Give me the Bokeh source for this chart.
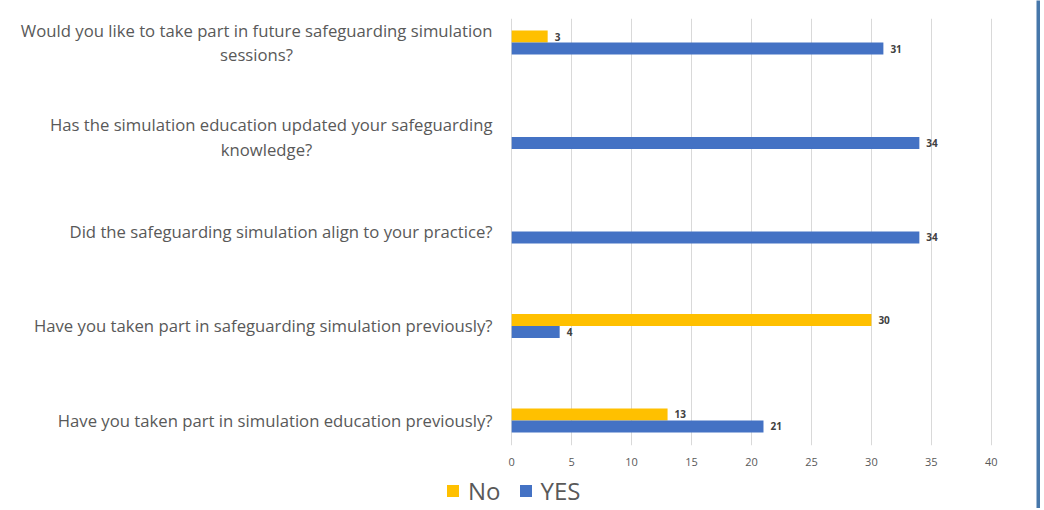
from bokeh.plotting import figure
from bokeh.models import (Range1d, FixedTicker, Legend, LegendItem,
                          ColumnDataSource)
from bokeh.layouts import row, column
from bokeh.embed import file_html
from bokeh.resources import INLINE
from bokeh.core.properties import value

# ---- data (bottom to top) ----
questions = [
    ["Have you taken part in simulation education previously?"],
    ["Have you taken part in safeguarding simulation previously?"],
    ["Did the safeguarding simulation align to your practice?"],
    ["Has the simulation education updated your safeguarding", "knowledge?"],
    ["Would you like to take part in future safeguarding simulation", "sessions?"],
]
no_values = [13, 30, None, None, 3]
yes_values = [21, 4, 34, 34, 31]
x_ticks = [0, 5, 10, 15, 20, 25, 30, 35, 40]
series_names = ["No", "YES"]

FONT = "Open Sans"
TXT = "#595959"
NO_COL = "#FFC000"
YES_COL = "#4472C4"
BAR_H = 0.127
H_TOP = 468
H_ALL = 508
pos = list(range(len(questions)))
y_rng = Range1d(-0.2646, 4.254)

# ---------------- main bar chart ----------------
p = figure(width=532, height=H_TOP, output_backend="svg", toolbar_location=None,
           x_range=Range1d(-0.1, 40.1), y_range=y_rng,
           y_axis_location=None, min_border_left=6, min_border_right=44,
           min_border_top=18, min_border_bottom=23)
p.outline_line_color = None

no_src = ColumnDataSource(dict(
    y=[i + BAR_H / 2 for i, v in zip(pos, no_values) if v is not None],
    v=[v for v in no_values if v is not None],
    t=[str(v) for v in no_values if v is not None]))
yes_src = ColumnDataSource(dict(
    y=[i - BAR_H / 2 for i in pos], v=yes_values,
    t=[str(v) for v in yes_values]))

p.hbar(y="y", right="v", left=0, height=BAR_H, source=no_src,
       fill_color=NO_COL, line_color=None)
p.hbar(y="y", right="v", left=0, height=BAR_H, source=yes_src,
       fill_color=YES_COL, line_color=None)

for src in (no_src, yes_src):
    p.text(x="v", y="y", text="t", source=src, x_offset=7,
           text_font=value(FONT), text_font_style="bold",
           text_font_size="10px", text_color="#404040",
           text_baseline="middle", text_align="left")

p.xaxis.ticker = FixedTicker(ticks=x_ticks)
p.xaxis.axis_line_color = None
p.xaxis.major_tick_line_color = None
p.xaxis.minor_tick_line_color = None
p.xaxis.major_label_text_font = FONT
p.xaxis.major_label_text_font_size = "11px"
p.xaxis.major_label_text_color = TXT
p.xaxis.major_label_standoff = 6
p.xgrid.ticker = FixedTicker(ticks=x_ticks)
p.xgrid.grid_line_color = "#D9D9D9"
p.ygrid.grid_line_color = None

# ---------------- category labels ----------------
lab = figure(width=504, height=H_TOP, output_backend="svg", toolbar_location=None,
             x_range=Range1d(0, 504), y_range=y_rng,
             x_axis_location=None, y_axis_location=None,
             min_border_left=0, min_border_right=0,
             min_border_top=18, min_border_bottom=23)
lab.outline_line_color = None
lab.grid.visible = False

LINE = 0.127
right_src = ColumnDataSource(dict(
    x=[492] * len(pos),
    y=[i + (LINE if len(q) > 1 else 0) for i, q in zip(pos, questions)],
    t=[q[0] for q in questions]))
second = [(i, q) for i, q in zip(pos, questions) if len(q) > 1]
centre_x = {3: 266, 4: 256}
center_src = ColumnDataSource(dict(
    x=[centre_x[i] for i, q in second],
    y=[i - LINE for i, q in second],
    t=[q[1] for i, q in second]))
lab.text(x="x", y="y", text="t", source=right_src, text_font=value(FONT),
         text_font_size="16.7px", text_color=TXT, text_align="right",
         text_baseline="middle")
lab.text(x="x", y="y", text="t", source=center_src, text_font=value(FONT),
         text_font_size="16.7px", text_color=TXT, text_align="center",
         text_baseline="middle")

# ---------------- legend strip ----------------
leg = figure(width=1036, height=H_ALL - H_TOP, output_backend="svg",
             toolbar_location=None, x_axis_location=None, y_axis_location=None,
             min_border=0, x_range=Range1d(0, 1), y_range=Range1d(0, 1))
leg.outline_line_color = None
leg.grid.visible = False
# proxy bars (outside the visible range) that carry the legend styling
l_no = leg.hbar(y=[-5], right=[1], left=0, height=1,
                fill_color=NO_COL, line_color=None)
l_yes = leg.hbar(y=[-5], right=[1], left=0, height=1,
                 fill_color=YES_COL, line_color=None)
legend = Legend(items=[LegendItem(label=series_names[0], renderers=[l_no]),
                       LegendItem(label=series_names[1], renderers=[l_yes])],
                orientation="horizontal", location=(445, 1),
                border_line_color=None, background_fill_alpha=0,
                padding=0, margin=0, spacing=17,
                glyph_width=15, glyph_height=15, label_standoff=8,
                label_text_font=FONT, label_text_font_size="24px",
                label_text_color=TXT, label_text_baseline="middle")
leg.add_layout(legend)

# ---------------- right edge bar ----------------
side = figure(width=4, height=H_ALL, output_backend="svg", toolbar_location=None,
              x_axis_location=None, y_axis_location=None, min_border=0,
              background_fill_color="#4677AA", border_fill_color="#4677AA")
side.outline_line_color = None
side.grid.visible = False

layout = row(column(row(lab, p), leg), side)
open("out.html", "w").write(file_html(layout, INLINE))
